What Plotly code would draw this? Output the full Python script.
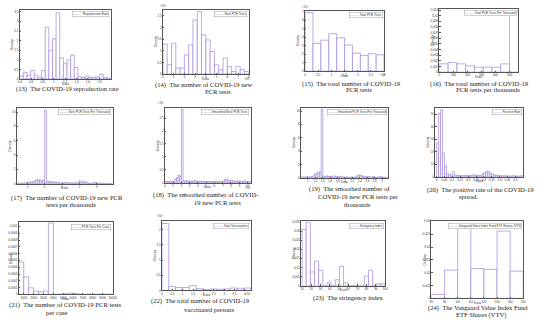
import plotly.graph_objects as go

W, H = 550, 332
PURPLE = "#9d86d8"
AXC = "#555555"

# ---------------- DATA ----------------
# (13) reproduction rate
rep_start, rep_width = 0.4, 0.064
rep_density = [0.15, 0.35, 0.2, 0.45, 0.2, 0.1, 0.45, 2.7, 1.5, 2.1, 3.45, 1.1, 0.8,
               1.0, 1.25, 0.6, 0.12, 0.08, 0.15, 0.08, 0.1, 0.1, 0.25, 0.08, 0.05]
rep_xticks = [0.4, 0.6, 0.8, 1.0, 1.2, 1.4, 1.6, 1.8]
rep_xlabels = ["0.4", "0.6", "0.8", "1", "1.2", "1.4", "1.6", "1.8"]
rep_yticks = [0, 0.5, 1, 1.5, 2, 2.5, 3, 3.5]
rep_ylabels = ["0", "0.5", "1", "1.5", "2", "2.5", "3", "3.5"]

# (14) new PCR tests (x in 1e4, y in 1e-5)
new_start, new_width = 0.0, 0.4
new_density = [1.29, 0.4, 1.33, 0.26, 0.26, 0.83, 1.26, 2.33, 2.69, 1.69, 1.47, 0.97,
               0.4, 0.19, 0.69, 0.33, 0.11, 0.33, 0.19, 0.11]
new_xticks = [0, 1, 2, 3, 4, 5, 6, 7, 8]
new_xlabels = ["0", "1", "2", "3", "4", "5", "6", "7", "8"]
new_yticks = [0, 0.5, 1, 1.5, 2, 2.5]
new_ylabels = ["0", "0.5", "1", "1.5", "2", "2.5"]

# (15) total PCR tests (x in 1e7, y in 1e-8)
tot_start, tot_width = 0.0, 0.3
tot_density = [6.9, 3.27, 3.65, 4.42, 3.92, 3.08, 2.12, 1.85, 2.04, 1.92]
tot_xticks = [0, 0.5, 1, 1.5, 2, 2.5, 3]
tot_xlabels = ["0", "0.5", "1", "1.5", "2", "2.5", "3"]
tot_yticks = [0, 1, 2, 3, 4, 5, 6, 7]
tot_ylabels = ["0", "1", "2", "3", "4", "5", "6", "7"]

# (16) total PCR tests per thousand
tpt_start, tpt_width = 0.0, 62.5
tpt_density = [0.00147, 0.0017, 0.00147, 0.00112, 0.00088, 0.00088, 0.00088, 0.00147, 0.0108]
tpt_xticks = [0, 100, 200, 300, 400, 500]
tpt_xlabels = ["0", "100", "200", "300", "400", "500"]
tpt_yticks = [0, 0.001, 0.002, 0.003, 0.004, 0.005, 0.006, 0.007, 0.008, 0.009, 0.01, 0.011]
tpt_ylabels = ["0", "0.001", "0.002", "0.003", "0.004", "0.005", "0.006", "0.007",
               "0.008", "0.009", "0.01", "0.011"]

# (17) new PCR tests per thousand
npt_start, npt_width = -1.6, 0.1
npt_density = [0.05, 0.05, 0.1, 0.1, 0.15, 0.1, 0.2, 0.25, 0.2, 0.3,
               0.45, 0.6, 0.5, 0.55, 0.4, 0.45, 10.3, 0.35, 0.3, 0.25,
               0.3, 0.2, 0.25, 0.15, 0.2, 0.15, 0.1, 0.15, 0.2, 0.1,
               0.15, 0.1, 0.1, 0.15, 0.1, 0.3, 0.4, 0.2, 0.35, 0.25,
               0.15, 0.1, 0.05, 0.1, 0.15, 0.2, 0.1, 0.1, 0.05, 0.1,
               0.05, 0.05, 0.1, 0.05, 0.05]
npt_xticks = [-1, 0, 1, 2, 3]
npt_xlabels = ["-1", "0", "1", "2", "3"]
npt_yticks = [0, 2, 4, 6, 8, 10]
npt_ylabels = ["0", "2", "4", "6", "8", "10"]

# (18) smoothed new PCR tests (x in 1e4, y in 1e-4)
snt_start, snt_width = 0.0, 0.2
snt_density = [0.06, 0.05, 0.05, 0.06, 0.05, 0.05, 0.15, 0.2, 0.3, 0.25,
               2.85, 0.08, 0.07, 0.08, 0.06, 0.07, 0.06, 0.07, 0.08, 0.06,
               0.05, 0.06, 0.05, 0.05, 0.05, 0.04, 0.05, 0.04, 0.04, 0.05,
               0.04, 0.05, 0.04, 0.05, 0.04, 0.07, 0.12, 0.15, 0.1, 0.08,
               0.1, 0.06, 0.05, 0.06, 0.08, 0.05, 0.06, 0.05, 0.07, 0.06,
               0.05, 0.04]
snt_xticks = [0, 1, 2, 3, 4, 5, 6, 7, 8, 9, 10]
snt_xlabels = ["0", "1", "2", "3", "4", "5", "6", "7", "8", "9", "10"]
snt_yticks = [0, 0.5, 1, 1.5, 2, 2.5]
snt_ylabels = ["0", "0.5", "1", "1.5", "2", "2.5"]

# (19) smoothed PCR tests per thousand
spt_start, spt_width = 0.82, 0.045
spt_density = [0.1, 0.15, 0.1, 0.2, 0.1, 0.15, 0.2, 0.3, 0.6, 0.7,
               0.9, 0.85, 10.3, 0.25, 0.2, 0.3, 0.2, 0.25, 0.15, 0.3,
               0.2, 0.15, 0.25, 0.2, 0.15, 0.1, 0.1, 0.15, 0.1, 0.1,
               0.15, 0.1, 0.1, 0.3, 0.45, 0.4, 0.3, 0.25, 0.2, 0.15,
               0.2, 0.1, 0.15, 0.2, 0.1, 0.1, 0.15, 0.2, 0.1, 0.1,
               0.1, 0.05]
spt_xticks = [1, 1.2, 1.4, 1.6, 1.8, 2, 2.2, 2.4, 2.6, 2.8, 3]
spt_xlabels = ["1", "1.2", "1.4", "1.6", "1.8", "2", "2.2", "2.4", "2.6", "2.8", "3"]
spt_yticks = [0, 2, 4, 6, 8, 10]
spt_ylabels = ["0", "2", "4", "6", "8", "10"]

# (20) positive rate
pos_start, pos_width = 0.0, 0.0125
pos_density = [27, 50.5, 53.4, 19, 8.8, 2.2, 2.2, 1.4, 4.1, 1.4,
               1.0, 1.2, 0.9, 1.0, 1.1, 1.3, 1.2, 1.0, 1.4, 1.6,
               1.2, 1.0, 0.9, 2.5, 3.5, 4.5, 4.0, 2.5, 2.0, 1.5,
               1.2, 1.0, 1.3, 0.8, 1.0, 0.7, 0.9, 0.6, 0.8, 1.0,
               0.7, 0.5, 0.8, 0.9]
pos_xticks = [0, 0.05, 0.1, 0.15, 0.2, 0.25, 0.3, 0.35, 0.4, 0.45, 0.5]
pos_xlabels = ["0", "0.05", "0.1", "0.15", "0.2", "0.25", "0.3", "0.35", "0.4", "0.45", "0.5"]
pos_yticks = [0, 10, 20, 30, 40, 50]
pos_ylabels = ["0", "10", "20", "30", "40", "50"]

# (21) PCR tests per case
ppc_start, ppc_width = 500, 500
ppc_density = [0.000476, 0.000257, 0.0000971, 0.0000485, 0.0000388, 0.0000485, 0.00105,
               0.000002, 0.000005, 0.00001, 0.00002, 0.00001, 0.000003, 0.000003,
               0.000003, 0.000003, 0.000003, 0.000003, 0.000003]
ppc_xticks = [1000, 2000, 3000, 4000, 5000, 6000, 7000, 8000, 9000, 10000]
ppc_xlabels = ["1000", "2000", "3000", "4000", "5000", "6000", "7000", "8000", "9000", "10000"]
ppc_yticks = [0, 0.0001, 0.0002, 0.0003, 0.0004, 0.0005, 0.0006, 0.0007, 0.0008, 0.0009, 0.001]
ppc_ylabels = ["0", "0.0001", "0.0002", "0.0003", "0.0004", "0.0005", "0.0006",
               "0.0007", "0.0008", "0.0009", "0.001"]

# (22) total vaccinations (x in 1e7, y in 1e-7)
vac_start, vac_width = 0.0, 0.33
vac_density = [2.2, 0.13, 0.1, 0.1, 0.16, 0.06, 0.03, 0.05, 0.04, 0.05, 0.08, 0.07, 0.08]
vac_xticks = [0, 0.5, 1, 1.5, 2, 2.5, 3, 3.5, 4]
vac_xlabels = ["0", "0.5", "1", "1.5", "2", "2.5", "3", "3.5", "4"]
vac_yticks = [0, 0.5, 1, 1.5, 2]
vac_ylabels = ["0", "0.5", "1", "1.5", "2"]

# (23) stringency index
str_start, str_width = 10, 4.5
str_density = [0.031, 0.035, 0.0075, 0.0135, 0.0084, 0.0, 0.0015, 0.0, 0.0032, 0.0106,
               0.0015, 0.0, 0.0, 0.0, 0.0, 0.0052, 0.0084, 0.0, 0.001, 0.001]
str_xticks = [10, 20, 30, 40, 50, 60, 70, 80, 90, 100]
str_xlabels = ["10", "20", "30", "40", "50", "60", "70", "80", "90", "100"]
str_yticks = [0, 0.005, 0.01, 0.015, 0.02, 0.025, 0.03, 0.035]
str_ylabels = ["0", "0.005", "0.01", "0.015", "0.02", "0.025", "0.03", "0.035"]

# (24) VTV
vtv_start, vtv_width = 80, 10
vtv_density = [0.0015, 0.011, 0.0275, 0.0116, 0.0113, 0.0262, 0.0106]
vtv_xticks = [80, 90, 100, 110, 120, 130, 140, 150]
vtv_xlabels = ["80", "90", "100", "110", "120", "130", "140", "150"]
vtv_yticks = [0, 0.005, 0.01, 0.015, 0.02, 0.025, 0.03]
vtv_ylabels = ["0", "0.005", "0.01", "0.015", "0.02", "0.025", "0.03"]

legend_names = ["Reproduction Rate", "New PCR Tests", "Total PCR Tests",
                "Total PCR Tests Per Thousand", "New PCR Tests Per Thousand",
                "Smoothed New PCR Tests", "Smoothed PCR Tests Per Thousand", "Positive Rate",
                "PCR Tests Per Case", "Total Vaccinations", "Stringency Index",
                "Vanguard Value Index Fund ETF Shares (VTV)"]

captions = [
    ["(13)  The COVID-19 reproduction rate"],
    ["(14)  The number of COVID-19 new", "PCR tests"],
    ["(15)  The total number of COVID-19", "PCR tests"],
    ["(16)  The total number of COVID-19", "PCR tests per thousands"],
    ["(17)  The number of COVID-19 new PCR", "tests per thousands"],
    ["(18)  The smoothed number of COVID-", "19 new PCR tests"],
    ["(19)  The smoothed number of", "COVID-19 new PCR tests per", "thousands"],
    ["(20)  The positive rate of the COVID-19", "spread."],
    ["(21)  The number of COVID-19 PCR tests", "per case"],
    ["(22)  The total number of COVID-19", "vaccinated persons"],
    ["(23)  The stringency index"],
    ["(24)  The Vanguard Value Index Fund", "ETF Shares (VTV)"],
]

# ---------------- LAYOUT SPECS (pixel boxes: left, right, top, bottom) ----------------
panels = [
    dict(box=(18, 110, 8, 78), data=(rep_start, rep_width, rep_density), xr=[0.4, 2.0], yr=[0, 3.6],
         xt=(rep_xticks, rep_xlabels), yt=(rep_yticks, rep_ylabels),
         cap=[(66, 88)], exps=[]),
    dict(box=(163, 250, 8, 73), data=(new_start, new_width, new_density), xr=[0, 8], yr=[0, 2.76],
         xt=(new_xticks, new_xlabels), yt=(new_yticks, new_ylabels),
         cap=[(205, 84.5), (219, 91)], exps=[("×10<sup>-5</sup>", 163, 4), ("×10<sup>4</sup>", 249, 78)]),
    dict(box=(307, 387, 9, 70), data=(tot_start, tot_width, tot_density), xr=[0, 3], yr=[0, 7.1],
         xt=(tot_xticks, tot_xlabels), yt=(tot_yticks, tot_ylabels),
         cap=[(354, 82.5), (362, 89)], exps=[("×10<sup>-8</sup>", 307, 5), ("×10<sup>7</sup>", 386, 74)]),
    dict(box=(443, 523, 7, 71), data=(tpt_start, tpt_width, tpt_density), xr=[0, 562.5], yr=[0, 0.0112],
         xt=(tpt_xticks, tpt_xlabels), yt=(tpt_yticks, tpt_ylabels),
         cap=[(484, 82.5), (492, 89)], exps=[]),
    dict(box=(15, 112, 107, 184), data=(npt_start, npt_width, npt_density), xr=[-1.6, 3.9], yr=[0, 10.6],
         xt=(npt_xticks, npt_xlabels), yt=(npt_yticks, npt_ylabels),
         cap=[(66, 198), (70, 205)], exps=[]),
    dict(box=(165, 252, 107, 183), data=(snt_start, snt_width, snt_density), xr=[0, 10.4], yr=[0, 2.9],
         xt=(snt_xticks, snt_xlabels), yt=(snt_yticks, snt_ylabels),
         cap=[(206, 195), (218, 203)], exps=[("×10<sup>-4</sup>", 162, 102), ("×10<sup>4</sup>", 250, 188)]),
    dict(box=(303, 391, 107, 178), data=(spt_start, spt_width, spt_density), xr=[0.82, 3.16], yr=[0, 10.5],
         xt=(spt_xticks, spt_xlabels), yt=(spt_yticks, spt_ylabels),
         cap=[(352, 189), (361, 197), (360, 205)], exps=[]),
    dict(box=(439, 528, 107, 177), data=(pos_start, pos_width, pos_density), xr=[-0.008, 0.55], yr=[0, 55],
         xt=(pos_xticks, pos_xlabels), yt=(pos_yticks, pos_ylabels),
         cap=[(485, 190), (473, 197)], exps=[]),
    dict(box=(17, 112, 223, 296), data=(ppc_start, ppc_width, ppc_density), xr=[500, 10000], yr=[0, 0.00106],
         xt=(ppc_xticks, ppc_xlabels), yt=(ppc_yticks, ppc_ylabels),
         cap=[(64, 307), (55, 314)], exps=[]),
    dict(box=(162, 252, 222, 292), data=(vac_start, vac_width, vac_density), xr=[0, 4.29], yr=[0, 2.27],
         xt=(vac_xticks, vac_xlabels), yt=(vac_yticks, vac_ylabels),
         cap=[(201, 303), (210, 311)], exps=[("×10<sup>-7</sup>", 160, 217), ("×10<sup>7</sup>", 249, 296)]),
    dict(box=(303, 388, 222, 287), data=(str_start, str_width, str_density), xr=[9, 100], yr=[0, 0.0355],
         xt=(str_xticks, str_xlabels), yt=(str_yticks, str_ylabels),
         cap=[(351, 300)], exps=[]),
    dict(box=(435, 528, 222, 300), data=(vtv_start, vtv_width, vtv_density), xr=[80, 150], yr=[0, 0.03],
         xt=(vtv_xticks, vtv_xlabels), yt=(vtv_yticks, vtv_ylabels),
         cap=[(482, 309.5), (486, 316.5)], exps=[]),
]


def px(x):
    return x / W


def py(y):
    return 1 - y / H


fig = go.Figure()
layout = dict(width=W, height=H, margin=dict(l=0, r=0, t=0, b=0),
              paper_bgcolor="white", plot_bgcolor="white", showlegend=False,
              font=dict(family="Liberation Sans", size=3, color="#333"),
              annotations=[], shapes=[])
ann = layout["annotations"]

for i, p in enumerate(panels):
    k = "" if i == 0 else str(i + 1)
    l, r, t, b = p["box"]
    start, width, vals = p["data"]
    centers = [start + width * (j + 0.5) for j in range(len(vals))]
    fig.add_trace(go.Bar(x=centers, y=vals, width=width,
                         marker=dict(color="white", line=dict(color=PURPLE, width=0.7)),
                         xaxis="x" + k, yaxis="y" + k, hoverinfo="skip"))
    common = dict(showline=True, mirror=True, linecolor=AXC, linewidth=0.5,
                  ticks="inside", ticklen=1.5, tickwidth=0.4, tickcolor=AXC,
                  showgrid=False, zeroline=False, tickfont=dict(size=3, color="#333"))
    layout["xaxis" + k] = dict(domain=[px(l), px(r)], anchor="y" + k, range=p["xr"],
                               tickvals=p["xt"][0], ticktext=p["xt"][1], **common)
    layout["yaxis" + k] = dict(domain=[py(b), py(t)], anchor="x" + k, range=p["yr"],
                               tickvals=p["yt"][0], ticktext=p["yt"][1], **common)
    # axis titles
    ann.append(dict(x=px((l + r) / 2), y=py(b + 4.5), xref="paper", yref="paper", text="Data",
                    showarrow=False, font=dict(size=3.3), xanchor="center", yanchor="middle"))
    ann.append(dict(x=px(l - 7), y=py((t + b) / 2), xref="paper", yref="paper", text="Density",
                    showarrow=False, font=dict(size=3.3), textangle=-90,
                    xanchor="center", yanchor="middle"))
    # legend box
    ann.append(dict(x=px(r - 1.5), y=py(t + 1.5), xref="paper", yref="paper",
                    text="<span style='color:%s'>———</span> %s" % (PURPLE, legend_names[i]),
                    showarrow=False, font=dict(size=3), xanchor="right", yanchor="top",
                    bordercolor="#888", borderwidth=0.4, borderpad=0.6, bgcolor="white"))
    # exponents
    for txt, ex, ey in p["exps"]:
        ann.append(dict(x=px(ex), y=py(ey), xref="paper", yref="paper", text=txt,
                        showarrow=False, font=dict(size=2.8), xanchor="center", yanchor="middle"))
    # captions
    for line, (cx, cy) in zip(captions[i], p["cap"]):
        ann.append(dict(x=px(cx), y=py(cy), xref="paper", yref="paper", text=line,
                        showarrow=False, xanchor="center", yanchor="middle",
                        font=dict(family="Liberation Serif", size=6.6, color="#222")))

fig.update_layout(**layout)
fig.write_html("out.html", config={"displayModeBar": False},
               post_script="document.body.style.margin='0';document.body.style.overflow='hidden';")
